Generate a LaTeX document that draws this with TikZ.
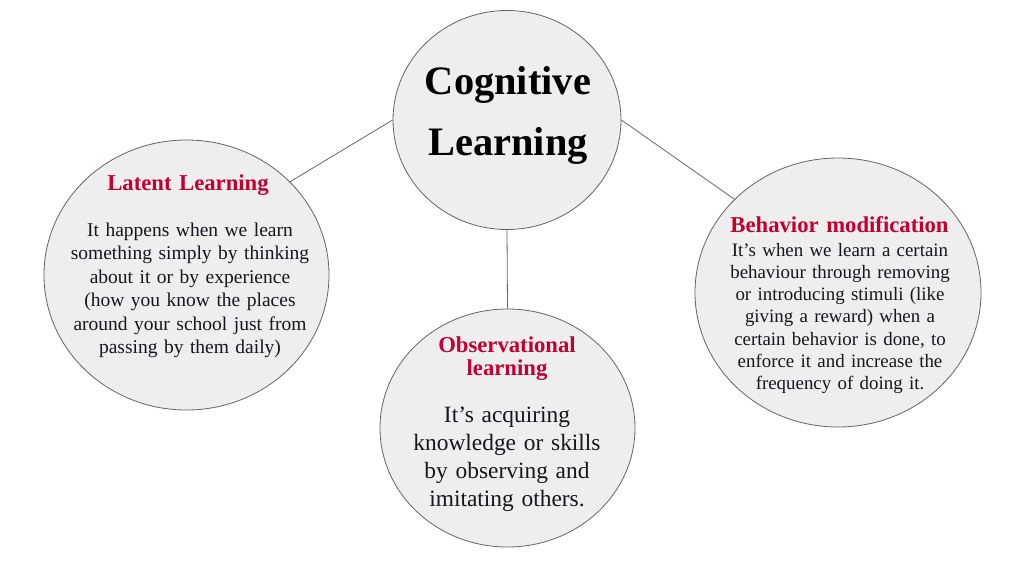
\documentclass[tikz,border=0pt]{standalone}
\usepackage{fontspec}
\setmainfont{Liberation Serif}
\usetikzlibrary{shapes.geometric}
\definecolor{bubblegray}{RGB}{238,238,238}
\definecolor{edgegray}{RGB}{100,100,100}
\definecolor{headred}{RGB}{196,0,48}
\definecolor{inkdark}{RGB}{22,22,30}
\begin{document}
\begin{tikzpicture}[x=1pt,y=-1pt,
  bubble/.style={ellipse,draw=edgegray,fill=bubblegray,line width=0.8pt,inner sep=0pt},
  headtext/.style={text=headred,font=\bfseries\fontsize{22.7}{23.5}\selectfont,inner sep=0pt,anchor=base,text width=260pt,align=center},
  bodytext/.style={text=inkdark,inner sep=0pt,anchor=base,text width=280pt,align=center}]
\useasboundingbox (0,0) rectangle (1018,573);
\node[bubble,minimum width=228pt,minimum height=219pt] (cog) at (507,120) {};
\node[bubble,minimum width=285pt,minimum height=270pt] (lat) at (186.5,275) {};
\node[bubble,minimum width=255pt,minimum height=238pt] (obs) at (507.5,428) {};
\node[bubble,minimum width=286pt,minimum height=269pt] (beh) at (838,292.5) {};
% connectors
\draw[edgegray,line width=0.8pt] (cog.180) -- (lat.42.5);
\draw[edgegray,line width=0.8pt] (cog.0) -- (beh.138);
\draw[edgegray,line width=0.8pt] (cog.south) -- (obs.north);
% centre
\node[text=black,font=\bfseries\fontsize{40.4}{61}\selectfont,inner sep=0pt,anchor=base,text width=260pt,align=center] (cogT) at (508,94) {Cognitive\\Learning};
% latent
\node[headtext] (latT) at (188,190) {Latent Learning};
\node[bodytext,font=\fontsize{19.5}{23.5}\selectfont] (latB) at (190,236)
  {It happens when we learn\\something simply by thinking\\about it or by experience\\(how you know the places\\around your school just from\\passing by them daily)};
% observational
\node[headtext] (obsT) at (507,352) {Observational\\learning};
\node[bodytext,font=\fontsize{23.4}{28.3}\selectfont] (obsB) at (507,422)
  {It’s acquiring\\knowledge or skills\\by observing and\\imitating others.};
% behaviour
\node[headtext] (behT) at (839.5,232) {Behavior modification};
\node[bodytext,font=\fontsize{18.9}{22.3}\selectfont] (behB) at (840,256)
  {It’s when we learn a certain\\behaviour through removing\\or introducing stimuli (like\\giving a reward) when a\\certain behavior is done, to\\enforce it and increase the\\frequency of doing it.};
\end{tikzpicture}
\end{document}
